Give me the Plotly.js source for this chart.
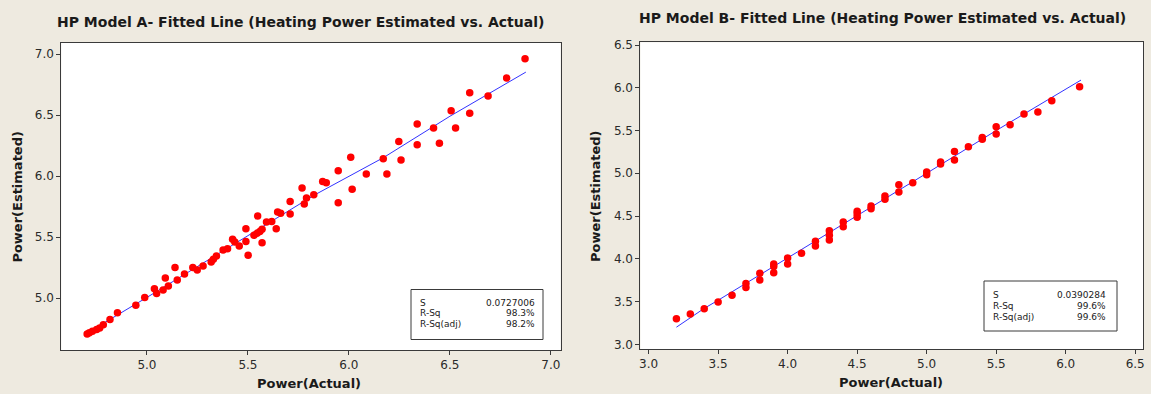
<!DOCTYPE html>
<html>
<head>
<meta charset="utf-8">
<script src="https://cdn.plot.ly/plotly-3.0.1.min.js"></script>
<style>
html,body{margin:0;padding:0;background:#EEEAE0;}
#chart{width:1151px;height:394px;}
</style>
</head>
<body>
<div id="chart"></div>
<script>
// ---- Model A data ----
const aActual = [4.704,4.715,4.730,4.751,4.766,4.784,4.817,4.854,4.945,4.989,5.037,5.048,5.080,5.091,5.106,5.139,5.150,5.186,5.227,5.249,5.278,5.318,5.329,5.344,5.377,5.399,5.424,5.435,5.457,5.490,5.490,5.501,5.530,5.545,5.548,5.559,5.570,5.570,5.592,5.618,5.640,5.647,5.662,5.709,5.709,5.768,5.779,5.790,5.826,5.870,5.888,5.947,5.947,6.009,6.016,6.086,6.170,6.188,6.247,6.258,6.338,6.338,6.419,6.448,6.506,6.528,6.598,6.598,6.689,6.781,6.872];
const aEstimated = [4.705,4.716,4.727,4.743,4.754,4.781,4.825,4.880,4.940,5.005,5.077,5.038,5.066,5.164,5.098,5.251,5.148,5.197,5.251,5.230,5.262,5.295,5.317,5.344,5.393,5.404,5.481,5.459,5.426,5.464,5.568,5.350,5.514,5.530,5.672,5.546,5.563,5.454,5.623,5.628,5.568,5.705,5.694,5.792,5.689,5.902,5.770,5.820,5.847,5.956,5.945,6.044,5.781,6.153,5.891,6.016,6.142,6.016,6.284,6.131,6.426,6.257,6.393,6.268,6.536,6.393,6.683,6.514,6.656,6.803,6.962];
const aFitX = [4.69,5.0,5.4,5.83,6.17,6.5,6.876];
const aFitY = [4.70,5.005,5.41,5.845,6.15,6.49,6.852];
const aStats = ["0.0727006","98.3%","98.2%"];

// ---- Model B data ----
const bActual = [3.2,3.3,3.4,3.5,3.6,3.7,3.7,3.8,3.8,3.9,3.9,3.9,4.0,4.0,4.1,4.2,4.2,4.3,4.3,4.3,4.4,4.4,4.5,4.5,4.5,4.6,4.6,4.7,4.7,4.8,4.8,4.9,5.0,5.0,5.1,5.1,5.2,5.2,5.3,5.4,5.4,5.5,5.5,5.6,5.7,5.8,5.9,6.1];
const bEstimated = [3.300,3.355,3.417,3.495,3.573,3.710,3.665,3.830,3.752,3.940,3.910,3.838,4.010,3.940,4.064,4.204,4.150,4.329,4.274,4.220,4.430,4.376,4.555,4.524,4.485,4.617,4.586,4.734,4.695,4.867,4.781,4.890,5.015,4.984,5.132,5.108,5.256,5.155,5.311,5.420,5.397,5.545,5.459,5.568,5.693,5.716,5.849,6.012];
const bFitX = [3.2,3.3,3.4,3.5,3.75,4.0,4.5,5.0,5.5,6.11];
const bFitY = [3.2,3.315,3.42,3.515,3.76,4.005,4.505,5.0,5.5,6.09];
const bStats = ["0.0390284","99.6%","99.6%"];

const statLabels = ["S","R-Sq","R-Sq(adj)"];
const xTicksA = [5.0,5.5,6.0,6.5,7.0];
const yTicksA = [5.0,5.5,6.0,6.5,7.0];
const xTicksB = [3.0,3.5,4.0,4.5,5.0,5.5,6.0,6.5];
const yTicksB = [3.0,3.5,4.0,4.5,5.0,5.5,6.0,6.5];

const W = 1151, H = 394;
const px = v => v / W;
const py = v => 1 - v / H;

const marker = {color:'#FF0000', size:7.5, line:{width:0}};
const fitLine = {color:'rgb(50,50,255)', width:1};

const traces = [
  {x:aFitX, y:aFitY, type:'scatter', mode:'lines', line:fitLine, xaxis:'x', yaxis:'y', hoverinfo:'skip'},
  {x:aActual, y:aEstimated, type:'scatter', mode:'markers', marker:marker, xaxis:'x', yaxis:'y'},
  {x:bFitX, y:bFitY, type:'scatter', mode:'lines', line:fitLine, xaxis:'x2', yaxis:'y2', hoverinfo:'skip'},
  {x:bActual, y:bEstimated, type:'scatter', mode:'markers', marker:marker, xaxis:'x2', yaxis:'y2'}
];

const tickFont = {family:'DejaVu Sans', size:12, color:'#2a2a2a'};
function ax(domain, range, vals, anchor){
  return {
    domain:domain, range:range, anchor:anchor,
    tickmode:'array', tickvals:vals, ticktext:vals.map(v=>v.toFixed(1)),
    showgrid:false, zeroline:false,
    showline:true, mirror:true, linecolor:'#3a3a3a', linewidth:1,
    ticks:'outside', ticklen:4, tickcolor:'#3a3a3a', tickwidth:1,
    tickfont:tickFont, automargin:false
  };
}

const titleFont = {family:'DejaVu Sans', size:14, color:'#1a1a1a', weight:'bold'};
const axTitleFont = {family:'DejaVu Sans', size:13, color:'#1a1a1a', weight:'bold'};
const statFont = {family:'DejaVu Sans', size:9, color:'#1a1a1a'};

const annotations = [
  {text:'HP Model A- Fitted Line (Heating Power Estimated vs. Actual)', x:px(300), y:py(22), font:titleFont},
  {text:'HP Model B- Fitted Line (Heating Power Estimated vs. Actual)', x:px(883), y:py(18), font:titleFont},
  {text:'Power(Actual)', x:px(309), y:py(383), font:axTitleFont},
  {text:'Power(Estimated)', x:px(16.6), y:py(197), font:axTitleFont, textangle:-90},
  {text:'Power(Actual)', x:px(891), y:py(382), font:axTitleFont},
  {text:'Power(Estimated)', x:px(596), y:py(196), font:axTitleFont, textangle:-90}
].map(a=>Object.assign({xref:'paper', yref:'paper', xanchor:'center', yanchor:'middle', showarrow:false}, a));

// stats boxes
const boxA = {x0:411, x1:543, y0:289.5, y1:339.5, lx:418, rx:537, rows:[302.5,313,323.5]};
const boxB = {x0:984, x1:1117, y0:281, y1:331, lx:991, rx:1108, rows:[294.5,305.5,316.5]};
const shapes = [];
[[boxA,aStats],[boxB,bStats]].forEach(([b,vals])=>{
  shapes.push({type:'rect', xref:'paper', yref:'paper', x0:px(b.x0), x1:px(b.x1), y0:py(b.y1), y1:py(b.y0),
    fillcolor:'#FFFFFF', line:{color:'#3a3a3a', width:1}, layer:'above'});
  statLabels.forEach((lab,i)=>{
    annotations.push({text:lab, x:px(b.lx), y:py(b.rows[i]), xref:'paper', yref:'paper', xanchor:'left', yanchor:'middle', showarrow:false, font:statFont});
    annotations.push({text:vals[i], x:px(b.rx), y:py(b.rows[i]), xref:'paper', yref:'paper', xanchor:'right', yanchor:'middle', showarrow:false, font:statFont});
  });
});

const layout = {
  width:W, height:H,
  margin:{l:0,r:0,t:0,b:0},
  paper_bgcolor:'#EEEAE0', plot_bgcolor:'#FFFFFF',
  showlegend:false,
  xaxis: ax([61.3/W, 560.6/W], [4.576, 7.048], xTicksA, 'y'),
  yaxis: ax([1-350/H, 1-42.7/H], [4.574, 7.093], yTicksA, 'x'),
  xaxis2: ax([640.4/W, 1143/W], [2.941, 6.556], xTicksB, 'y2'),
  yaxis2: ax([1-349/H, 1-42.3/H], [2.945, 6.532], yTicksB, 'x2'),
  annotations:annotations,
  shapes:shapes
};

Plotly.newPlot('chart', traces, layout, {displayModeBar:false, staticPlot:true});
</script>
</body>
</html>
